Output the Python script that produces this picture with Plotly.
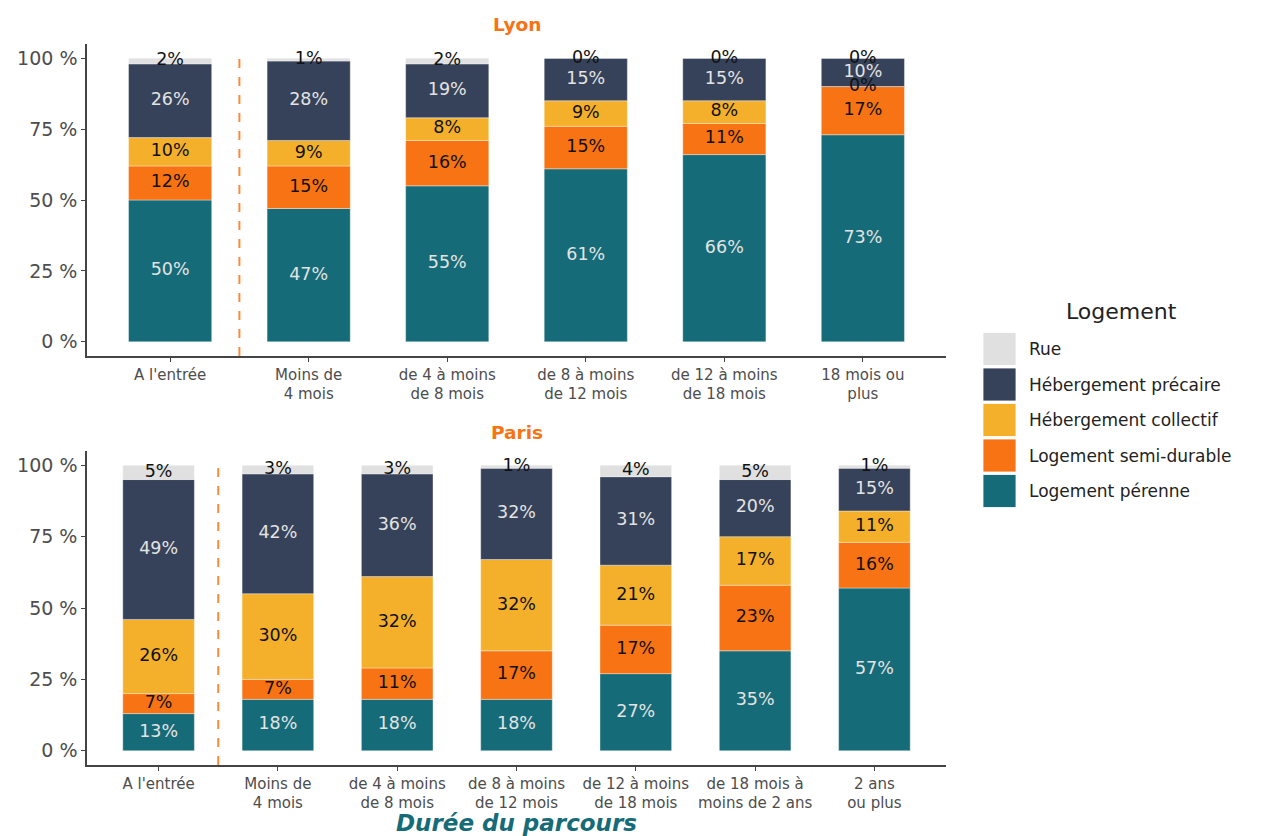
import plotly.graph_objects as go

# ---- data -----------------------------------------------------------------
series_names = ["Logement pérenne", "Logement semi-durable", "Hébergement collectif",
                "Hébergement précaire", "Rue"]

lyon_categories = ["A l'entrée", "Moins de<br>4 mois", "de 4 à moins<br>de 8 mois",
                   "de 8 à moins<br>de 12 mois", "de 12 à moins<br>de 18 mois",
                   "18 mois ou<br>plus"]
lyon_perenne = [50, 47, 55, 61, 66, 73]
lyon_semi = [12, 15, 16, 15, 11, 17]
lyon_collectif = [10, 9, 8, 9, 8, 0]
lyon_precaire = [26, 28, 19, 15, 15, 10]
lyon_rue = [2, 1, 2, 0, 0, 0]

paris_categories = ["A l'entrée", "Moins de<br>4 mois", "de 4 à moins<br>de 8 mois",
                    "de 8 à moins<br>de 12 mois", "de 12 à moins<br>de 18 mois",
                    "de 18 mois à<br>moins de 2 ans", "2 ans<br>ou plus"]
paris_perenne = [13, 18, 18, 18, 27, 35, 57]
paris_semi = [7, 7, 11, 17, 17, 23, 16]
paris_collectif = [26, 30, 32, 32, 21, 17, 11]
paris_precaire = [49, 42, 36, 32, 31, 20, 15]
paris_rue = [5, 3, 3, 1, 4, 5, 1]

y_ticks = [0, 25, 50, 75, 100]
y_ticklabels = ["0 %", "25 %", "50 %", "75 %", "100 %"]

# ---- styling --------------------------------------------------------------
colors = ["#166b78", "#f77313", "#f4b02a", "#364259", "#e0e0e0"]
label_colors = ["#e3e3e3", "#111111", "#111111", "#e3e3e3", "#111111"]
FONT = "DejaVu Sans, Verdana, sans-serif"
W, H = 1264, 836

def px_x(p):
    return p / W

def px_y(p):
    return 1 - p / H

fig = go.Figure()

panels = [
    ("x", "y", lyon_categories,
     [lyon_perenne, lyon_semi, lyon_collectif, lyon_precaire, lyon_rue]),
    ("x2", "y2", paris_categories,
     [paris_perenne, paris_semi, paris_collectif, paris_precaire, paris_rue]),
]

for xa, ya, cats, values in panels:
    base = [0] * len(cats)
    for name, vals, col, lcol in zip(series_names, values, colors, label_colors):
        fig.add_trace(go.Bar(
            x=cats, y=vals, base=base, name=name, xaxis=xa, yaxis=ya,
            marker=dict(color=col, line=dict(color="rgba(255,255,255,0.6)", width=0.6)),
            width=0.6, showlegend=False, hoverinfo="skip",
        ))
        mids = [b + v / 2 for b, v in zip(base, vals)]
        fig.add_trace(go.Scatter(
            x=cats, y=mids, mode="text", xaxis=xa, yaxis=ya,
            text=[f"{v}%" for v in vals],
            textfont=dict(family=FONT, size=17.5, color=lcol),
            showlegend=False, hoverinfo="skip",
        ))
        base = [b + v for b, v in zip(base, vals)]

fig.update_layout(barmode="overlay")

x_dom = [px_x(87), px_x(946)]
axis_common = dict(showline=True, linecolor="#444444", linewidth=1.5,
                   ticks="outside", ticklen=4, tickcolor="#444444",
                   showgrid=False, zeroline=False, automargin=False)
xtick_font = dict(family=FONT, size=15, color="#4d4d4d")
ytick_font = dict(family=FONT, size=19, color="#4d4d4d")

fig.update_layout(
    width=W, height=H,
    margin=dict(l=0, r=0, t=0, b=0),
    plot_bgcolor="white", paper_bgcolor="white",
    xaxis=dict(domain=x_dom, anchor="y", type="category",
               range=[-0.6, len(lyon_categories) - 0.4], tickangle=0,
               tickfont=xtick_font, **axis_common),
    yaxis=dict(domain=[px_y(356), px_y(44)], anchor="x", range=[-5, 105],
               tickvals=y_ticks, ticktext=y_ticklabels,
               tickfont=ytick_font, **axis_common),
    xaxis2=dict(domain=x_dom, anchor="y2", type="category",
                range=[-0.6, len(paris_categories) - 0.4], tickangle=0,
                tickfont=xtick_font, **axis_common),
    yaxis2=dict(domain=[px_y(765), px_y(451)], anchor="x2", range=[-5, 105],
                tickvals=y_ticks, ticktext=y_ticklabels,
                tickfont=ytick_font, **axis_common),
)

# dashed separators after the entry bar
for xr, yr in [("x", "y domain"), ("x2", "y2 domain")]:
    fig.add_shape(type="line", xref=xr, yref=yr, x0=0.5, x1=0.5, y0=0, y1=0.97,
                  line=dict(color="#fb8a3a", width=2, dash="9px,9px"))

annotations = [
    dict(text="<b>Lyon</b>", x=(x_dom[0] + x_dom[1]) / 2, y=px_y(25),
         font=dict(family=FONT, size=18.5, color="#f77313")),
    dict(text="<b>Paris</b>", x=(x_dom[0] + x_dom[1]) / 2, y=px_y(432),
         font=dict(family=FONT, size=18.5, color="#f77313")),
    dict(text="<b><i>Durée du parcours</i></b>", x=(x_dom[0] + x_dom[1]) / 2, y=px_y(823),
         font=dict(family=FONT, size=23, color="#166b78")),
    dict(text="Logement", x=px_x(1121), y=px_y(311),
         font=dict(family=FONT, size=22, color="#222222")),
]
for a in annotations:
    a.update(xref="paper", yref="paper", showarrow=False,
             xanchor="center", yanchor="middle")

# legend keys, top item first
legend_order = list(range(len(series_names)))[::-1]
for i, k in enumerate(legend_order):
    cy = 349 + 35.5 * i
    fig.add_shape(type="rect", xref="paper", yref="paper",
                  x0=px_x(983), x1=px_x(1016), y0=px_y(cy + 16.5), y1=px_y(cy - 16.5),
                  fillcolor=colors[k], line=dict(color="rgba(255,255,255,0.8)", width=1))
    annotations.append(dict(text=series_names[k], xref="paper", yref="paper",
                            x=px_x(1027), y=px_y(cy), xanchor="left", yanchor="middle",
                            showarrow=False,
                            font=dict(family=FONT, size=17, color="#222222")))

fig.update_layout(annotations=annotations)

fig.write_html("out.html")
